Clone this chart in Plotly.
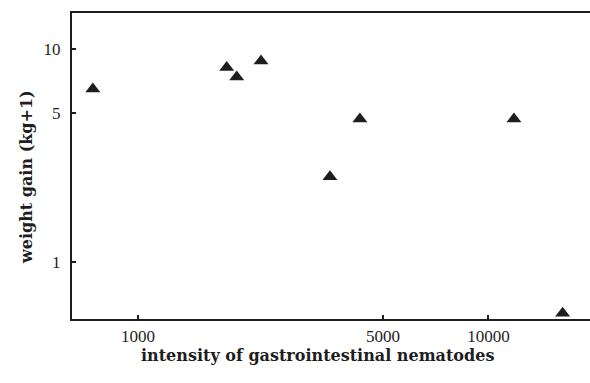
import plotly.graph_objects as go
import math

intensity = [743, 1791, 1913, 2244, 3530, 4298, 11830, 16290]
weight_gain = [6.5, 8.2, 7.4, 8.8, 2.52, 4.7, 4.7, 0.575]

x_ticks = [1000, 5000, 10000]
x_tick_text = ["1000", "5000", "10000"]
y_ticks = [1, 5, 10]
y_tick_text = ["1", "5", "10"]

TICKFONT = "Liberation Serif, serif"
TITLEFONT = "DejaVu Serif, serif"
INK = "#1e1e1e"

fig = go.Figure()
fig.add_trace(go.Scatter(
    x=intensity, y=weight_gain, mode="markers",
    marker=dict(symbol="triangle-up", size=13, color=INK, line=dict(width=0)),
    showlegend=False, cliponaxis=False,
))

fig.update_layout(
    width=590, height=383,
    margin=dict(l=72, r=0, t=13, b=64),
    paper_bgcolor="white", plot_bgcolor="white",
    font=dict(family=TICKFONT, size=17, color=INK),
    xaxis=dict(
        type="log", range=[math.log10(648), math.log10(19500)],
        tickvals=x_ticks, ticktext=x_tick_text,
        ticks="inside", ticklen=4, tickwidth=1.5, tickcolor=INK,
        showline=True, linewidth=2, linecolor=INK, mirror=True,
        showgrid=False, zeroline=False, ticklabelstandoff=1,
        tickfont=dict(family=TICKFONT, size=17, color=INK),
    ),
    yaxis=dict(
        type="log", range=[math.log10(0.54), math.log10(14.8)],
        tickvals=y_ticks, ticktext=y_tick_text,
        ticks="inside", ticklen=4, tickwidth=1.5, tickcolor=INK,
        showline=True, linewidth=2, linecolor=INK, mirror=False,
        showgrid=False, zeroline=False, ticklabelstandoff=6,
        tickfont=dict(family=TICKFONT, size=17, color=INK),
    ),
    annotations=[
        dict(text="<b>intensity of gastrointestinal nematodes</b>",
             xref="paper", yref="paper", x=(317 - 72) / 518, y=-(355 - 319) / 306,
             showarrow=False, xanchor="center", yanchor="middle",
             font=dict(family=TITLEFONT, size=16, color=INK)),
        dict(text="<b>weight gain (kg+1)</b>",
             xref="paper", yref="paper", x=-(72 - 26) / 518, y=(319 - 177) / 306,
             showarrow=False, xanchor="center", yanchor="middle", textangle=-90,
             font=dict(family=TITLEFONT, size=16, color=INK)),
    ],
)

fig.write_html(
    "out.html",
    config={"displayModeBar": False},
    post_script="document.body.style.margin='0';document.body.style.overflow='hidden';",
)
